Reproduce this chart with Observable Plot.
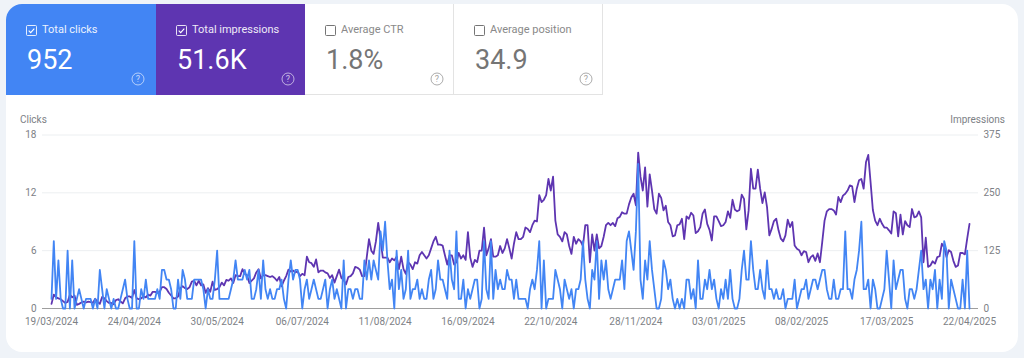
<!DOCTYPE html>
<html>
<head>
<meta charset="utf-8">
<script src="https://cdn.jsdelivr.net/npm/d3@7"></script>
<script src="https://cdn.jsdelivr.net/npm/@observablehq/plot@0.6"></script>
<style>
html,body{margin:0;padding:0;background:#eff3f8;width:1024px;height:358px;overflow:hidden;font-family:Roboto,sans-serif}
#panel{position:absolute;left:6px;top:4px;width:1012px;height:348px;background:#fff;border-radius:16px;overflow:hidden}
.card{position:absolute;top:0;height:91px;box-sizing:border-box;width:149px}
.card .lab{position:absolute;left:36px;top:19px;font-size:11px;line-height:14px;white-space:nowrap}
.card .val{position:absolute;left:21px;top:40px;font-size:27px;line-height:32px;white-space:nowrap}
.card svg{position:absolute}
#chart{position:absolute;left:0;top:110px}
#chart svg{display:block}
.lbl{position:absolute;font-size:10px;color:#7d8186;top:114px}
</style>
</head>
<body>
<div id="panel"></div>
<div class="lbl" style="left:20px">Clicks</div>
<div class="lbl" style="right:19px">Impressions</div>
<div id="chart"></div>
<script>
const startDate = "2024-03-19";
const clicks = [
1,7,1,5,1,0,0,6,0,5,0,1,2,1,0,1,1,1,0,1,0,4,2,0,2,1,0,1,0,0,1,2,3,1,0,0,7,0,0,2,1,3,1,1,1,1,2,1,4,4,3,3,2,0,0,3,1,4,3,1,1,1,3,3,3,3,2,0,2,1,1,3,6,1,1,1,1,1,2,3,5,3,3,3,4,3,4,1,1,2,4,1,5,2,1,2,1,1,2,2,3,1,0,3,5,3,4,4,3,0,2,3,1,2,3,2,1,1,2,3,0,2,3,1,2,1,0,5,0,2,2,1,2,2,1,1,5,3,5,3,5,4,3,8,6,9,5,2,3,0,6,2,4,1,2,6,1,2,2,3,1,2,1,1,3,4,1,2,5,3,3,2,1,6,3,2,8,1,1,3,0,2,1,2,3,3,0,1,7,2,1,7,1,4,2,3,2,2,4,3,3,1,3,1,1,1,1,0,2,3,2,4,7,0,5,0,1,1,1,4,3,2,0,3,2,1,2,0,2,2,3,7,3,1,0,4,3,7,1,5,3,5,2,1,2,3,3,3,5,2,7,8,6,4,8,15,3,1,5,3,7,4,2,0,0,1,5,4,2,3,1,0,1,0,1,0,3,3,1,2,0,5,1,1,3,2,4,2,3,1,0,2,1,3,1,4,1,0,0,1,4,6,3,3,7,4,2,2,4,2,1,5,2,2,1,2,1,1,2,0,1,1,1,3,0,1,2,2,3,1,2,3,3,2,3,4,4,2,1,1,3,1,1,2,2,8,2,2,1,3,4,6,9,2,2,3,0,3,2,0,0,1,2,6,3,0,5,2,3,4,4,1,0,2,2,1,2,4,6,2,3,0,3,2,4,0,3,1,7,6,0,3,2,1,0,0,3,0,6,0];
const impressions = [
10,30,24,22,20,16,12,14,30,24,28,8,10,13,15,13,15,14,12,21,14,10,25,22,16,12,12,9,18,20,15,11,22,26,26,23,40,22,20,22,26,24,30,28,36,36,34,36,46,46,42,34,28,22,22,26,44,48,44,42,46,58,60,50,60,50,52,34,44,36,58,40,42,46,56,50,62,60,65,55,72,70,70,85,75,72,55,60,65,78,85,65,72,72,70,68,70,66,60,68,48,60,70,84,80,82,78,80,70,75,72,112,100,98,90,106,78,82,82,78,76,66,72,56,70,84,66,62,52,68,70,76,90,88,84,70,70,110,150,125,118,145,185,150,110,110,110,100,108,104,112,85,112,85,75,100,95,85,100,97,115,122,115,108,115,130,145,155,138,138,136,115,95,115,115,95,100,120,108,115,105,165,110,90,105,100,125,125,175,115,130,150,112,112,115,135,120,130,150,130,108,140,165,150,150,155,175,172,165,180,190,188,245,230,235,245,280,255,285,190,160,155,145,165,160,135,118,155,140,150,145,135,180,180,100,160,125,160,130,135,155,180,185,180,185,178,195,198,208,205,205,225,240,248,223,337,285,255,305,220,290,255,215,205,248,239,212,222,187,180,156,158,180,182,194,150,199,194,207,201,163,167,176,205,214,183,170,147,199,199,189,178,180,187,210,196,235,214,210,213,246,237,171,212,302,259,259,300,259,228,251,219,158,172,189,194,169,151,145,158,192,176,187,136,129,126,115,124,122,100,111,115,103,119,100,144,190,210,215,215,212,203,241,230,244,248,255,266,264,230,259,277,280,259,316,332,273,213,190,180,194,183,175,175,169,162,210,206,156,203,160,189,180,176,215,197,199,210,197,100,153,90,93,102,97,111,113,140,133,111,126,122,103,90,93,120,120,117,151,183];
const xTickLabels = ["19/03/2024","24/04/2024","30/05/2024","06/07/2024","11/08/2024","16/09/2024","22/10/2024","28/11/2024","03/01/2025","08/02/2025","17/03/2025","22/04/2025"];
const clickTicks = [0,6,12,18];
const clicksMax = 18, impressionsMax = 375;
const cards = [
 {label:"Total clicks",value:"952",bg:"#4285f4",fg:"#fff",on:true,left:0},
 {label:"Total impressions",value:"51.6K",bg:"#5e35b1",fg:"#fff",on:true,left:150},
 {label:"Average CTR",value:"1.8%",bg:"#fff",fg:"#757575",on:false,left:299},
 {label:"Average position",value:"34.9",bg:"#fff",fg:"#757575",on:false,left:448}
];
const panel = document.getElementById("panel");
for (const c of cards) {
  const d = document.createElement("div");
  d.className = "card";
  d.style.cssText = `left:${c.left}px;background:${c.bg};color:${c.fg};` + (c.on ? "" : "border-right:1px solid #e3e3e3;border-bottom:1px solid #e3e3e3;") + (c.left==0?"width:150px;":"");
  const box = c.on
    ? `<svg style="left:20px;top:21px" width="11" height="11" viewBox="0 0 11 11"><rect x=".5" y=".5" width="10" height="10" rx="1" fill="none" stroke="#fff" opacity=".85"/><path d="M2.7 5.6l2 2 3.6-4" fill="none" stroke="#fff" stroke-width="1.1"/></svg>`
    : `<svg style="left:20px;top:21px" width="11" height="11" viewBox="0 0 11 11"><rect x=".5" y=".5" width="10" height="10" rx="1" fill="none" stroke="#757575"/></svg>`;
  d.innerHTML = box + `<div class="lab" style="opacity:${c.on?0.9:0.85}">${c.label}</div><div class="val">${c.value}</div>` +
    `<svg style="left:125px;top:68px" width="14" height="14" viewBox="0 0 14 14"><circle cx="7" cy="7" r="6" fill="none" stroke="${c.fg}" stroke-opacity=".6"/><text x="7" y="10" text-anchor="middle" font-size="9" fill="${c.fg}" fill-opacity=".7" font-family="Roboto">?</text></svg>`;
  panel.appendChild(d);
}
const t0 = d3.isoParse(startDate);
const dateOf = i => d3.utcDay.offset(t0, i);
const parseTick = s => { const [a,b,c] = s.split("/"); return new Date(Date.UTC(+c, +b-1, +a)); };
const rows = clicks.map((v,i) => ({date: dateOf(i), clicks: v, impressions: impressions[i]}));
const labelColor = "#7d8186";
const chart = Plot.plot({
  width: 1024, height: 240,
  marginTop: 24.5, marginBottom: 42, marginLeft: 51, marginRight: 55,
  style: {fontFamily: "Roboto, sans-serif", fontSize: "10px", background: "transparent", color: labelColor, overflow: "visible"},
  x: {type: "utc", domain: [dateOf(0), dateOf(clicks.length-1)]},
  y: {domain: [0, clicksMax]},
  marks: [
    Plot.ruleY(clickTicks.slice(1), {stroke: "#eceff1", strokeWidth: 1, insetLeft: -9, insetRight: -9}),
    Plot.ruleY([0], {stroke: "#9e9e9e", strokeWidth: 1, insetLeft: -9, insetRight: -9}),
    Plot.axisX({ticks: xTickLabels.map(parseTick), tickSize: 0, tickPadding: 9, tickFormat: d3.utcFormat("%d/%m/%Y"), label: null, fontSize: 10}),
    Plot.axisY({anchor: "left", ticks: clickTicks, tickSize: 0, tickPadding: 15, label: null}),
    Plot.axisY({anchor: "right", ticks: clickTicks, tickSize: 0, tickPadding: 14, label: null, tickFormat: d => String(d*impressionsMax/clicksMax), textAnchor:"start"}),
    Plot.lineY(rows, {x: "date", y: d => d.impressions*clicksMax/impressionsMax, stroke: "#5e35b1", strokeWidth: 1.8}),
    Plot.lineY(rows, {x: "date", y: "clicks", stroke: "#4285f4", strokeWidth: 1.8})
  ]
});
document.getElementById("chart").appendChild(chart);
console.log(clicks.length, impressions.length);
</script>
</body>
</html>
